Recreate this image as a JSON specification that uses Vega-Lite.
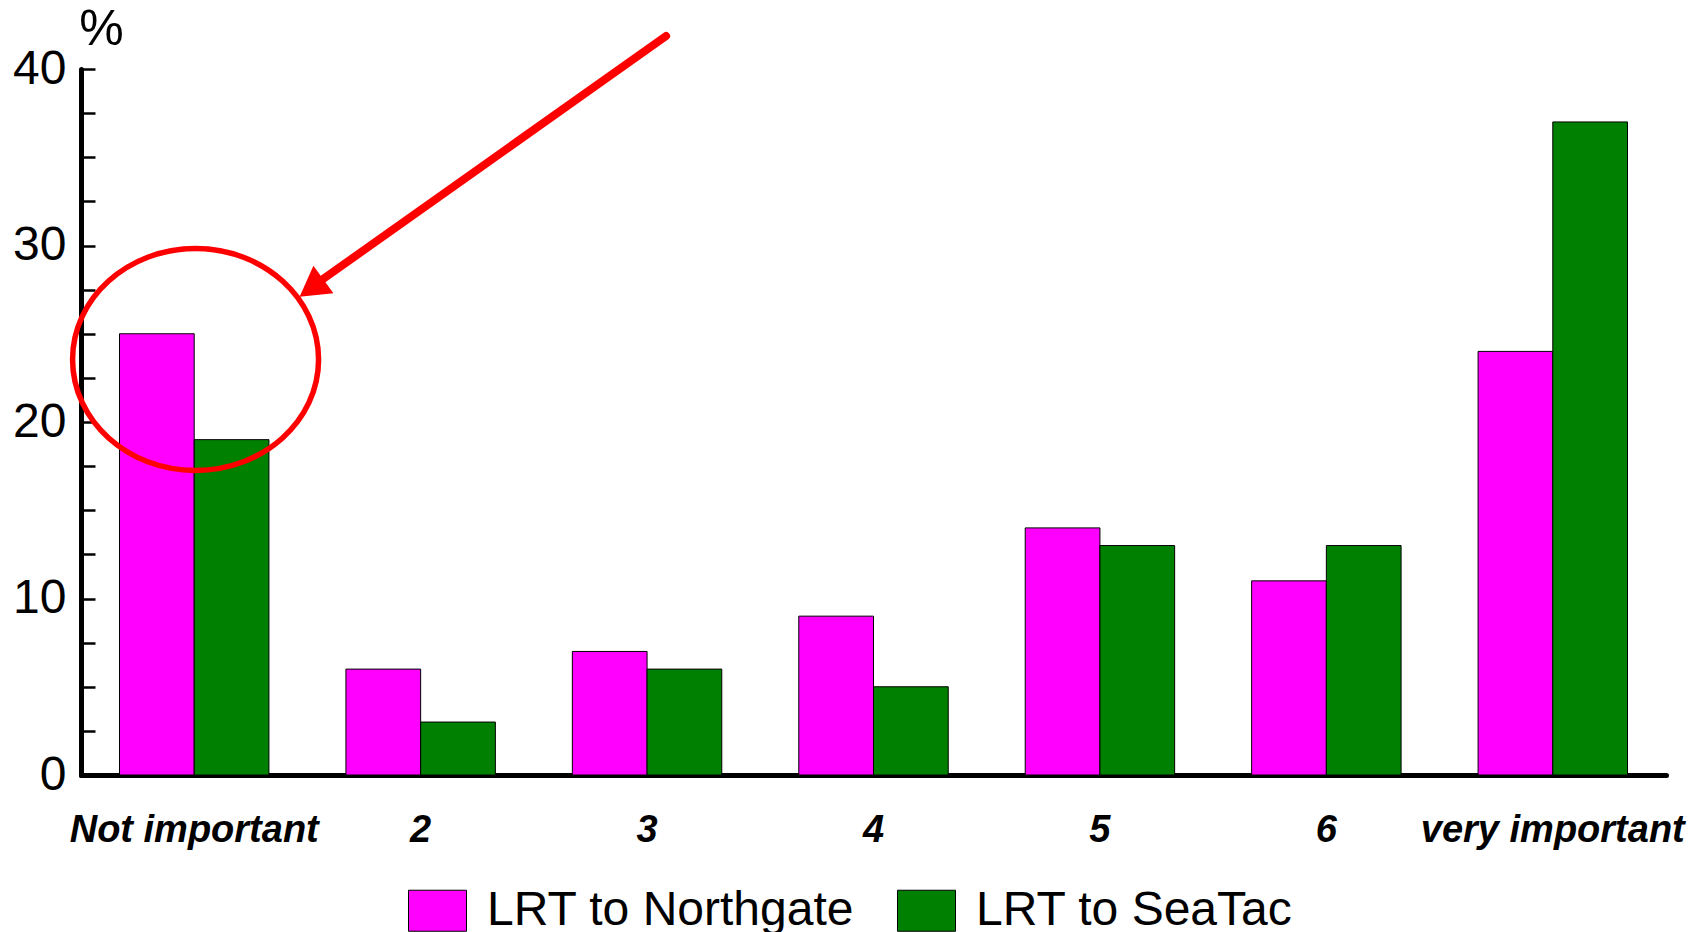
{
  "$schema": "https://vega.github.io/schema/vega-lite/v6.json",
  "width": 1585,
  "height": 706,
  "autosize": {"type": "none"},
  "padding": {"left": 81, "top": 69, "right": 41, "bottom": 157},
  "background": "white",
  "config": {"view": {"stroke": null}, "font": "Liberation Sans"},
  "datasets": {
    "bars": [
      {"category": "Not important", "series": "LRT to Northgate", "value": 25},
      {"category": "Not important", "series": "LRT to SeaTac", "value": 19},
      {"category": "2", "series": "LRT to Northgate", "value": 6},
      {"category": "2", "series": "LRT to SeaTac", "value": 3},
      {"category": "3", "series": "LRT to Northgate", "value": 7},
      {"category": "3", "series": "LRT to SeaTac", "value": 6},
      {"category": "4", "series": "LRT to Northgate", "value": 9},
      {"category": "4", "series": "LRT to SeaTac", "value": 5},
      {"category": "5", "series": "LRT to Northgate", "value": 14},
      {"category": "5", "series": "LRT to SeaTac", "value": 13},
      {"category": "6", "series": "LRT to Northgate", "value": 11},
      {"category": "6", "series": "LRT to SeaTac", "value": 13},
      {"category": "very important", "series": "LRT to Northgate", "value": 24},
      {"category": "very important", "series": "LRT to SeaTac", "value": 37}
    ],
    "ellipse": [{"pos": 0.506, "value": 23.54}],
    "arrow": [{"pos": 2.584, "value": 41.87, "pos2": 1.069, "value2": 28.1}],
    "head": [{"pos": 1.018, "value": 27.59}]
  },
  "encoding": {
    "y": {
      "field": "value",
      "type": "quantitative",
      "scale": {"domain": [0, 40], "nice": false, "zero": true},
      "axis": {
        "title": "%",
        "titleAngle": 0,
        "titleX": 20,
        "titleY": -40,
        "titleAlign": "center",
        "titleBaseline": "middle",
        "titleFontSize": 50,
        "titleFontWeight": "normal",
        "titleColor": "black",
        "titleFont": "Liberation Sans",
        "values": [0, 2.5, 5, 7.5, 10, 12.5, 15, 17.5, 20, 22.5, 25, 27.5, 30, 32.5, 35, 37.5, 40],
        "labelExpr": "datum.value % 10 === 0 ? datum.label : ''",
        "labelFontSize": 48,
        "labelFont": "Liberation Sans",
        "labelColor": "black",
        "labelPadding": 29,
        "tickSize": -14,
        "tickWidth": 2.5,
        "tickColor": "black",
        "domainColor": "black",
        "domainWidth": 5,
        "domainCap": "round",
        "grid": false
      }
    }
  },
  "layer": [
    {
      "data": {"name": "bars"},
      "mark": {"type": "bar", "stroke": "black", "strokeWidth": 1},
      "encoding": {
        "x": {
          "field": "category",
          "type": "nominal",
          "sort": ["Not important", "2", "3", "4", "5", "6", "very important"],
          "scale": {"paddingInner": 0.34, "paddingOuter": 0.17},
          "axis": {
            "title": null,
            "labelAngle": 0,
            "ticks": false,
            "labelFontSize": 38,
            "labelFontWeight": "bold",
            "labelFontStyle": "italic",
            "labelFont": "Liberation Sans",
            "labelColor": "black",
            "labelPadding": 36,
            "labelLimit": 0,
            "labelOverlap": false,
            "domainColor": "black",
            "domainWidth": 5,
            "domainCap": "round",
            "grid": false
          }
        },
        "xOffset": {
          "field": "series",
          "type": "nominal",
          "sort": ["LRT to Northgate", "LRT to SeaTac"]
        },
        "color": {
          "field": "series",
          "type": "nominal",
          "scale": {
            "domain": ["LRT to Northgate", "LRT to SeaTac"],
            "range": ["#FF00FF", "#008000"]
          },
          "legend": {
            "title": null,
            "orient": "none",
            "direction": "horizontal",
            "legendX": 327,
            "legendY": 812,
            "labelFontSize": 48,
            "labelFont": "Liberation Sans",
            "labelColor": "black",
            "labelLimit": 0,
            "symbolType": "M-1,-0.707L1,-0.707L1,0.707L-1,0.707Z",
            "symbolSize": 3364,
            "symbolStrokeColor": "black",
            "symbolStrokeWidth": 1,
            "symbolOpacity": 1,
            "labelOffset": 20,
            "columnPadding": 40
          }
        }
      }
    },
    {
      "data": {"name": "ellipse"},
      "mark": {
        "type": "point",
        "shape": "M-1,0A1,0.902,0,1,0,1,0A1,0.902,0,1,0,-1,0Z",
        "size": 60516,
        "filled": false,
        "stroke": "#FF0000",
        "strokeWidth": 5.5,
        "opacity": 1
      },
      "encoding": {
        "x": {"field": "pos", "type": "quantitative", "scale": {"domain": [0, 7], "nice": false, "zero": false}, "axis": null}
      }
    },
    {
      "data": {"name": "arrow"},
      "mark": {"type": "rule", "color": "#FF0000", "strokeWidth": 8, "strokeCap": "round", "opacity": 1},
      "encoding": {
        "x": {"field": "pos", "type": "quantitative", "scale": {"domain": [0, 7], "nice": false, "zero": false}, "axis": null},
        "x2": {"field": "pos2"},
        "y2": {"field": "value2"}
      }
    },
    {
      "data": {"name": "head"},
      "mark": {"type": "point", "shape": "triangle-up", "size": 1156, "filled": true, "color": "#FF0000", "angle": 234, "opacity": 1},
      "encoding": {
        "x": {"field": "pos", "type": "quantitative", "scale": {"domain": [0, 7], "nice": false, "zero": false}, "axis": null}
      }
    }
  ],
  "resolve": {"scale": {"x": "independent"}, "axis": {"x": "independent"}}
}
